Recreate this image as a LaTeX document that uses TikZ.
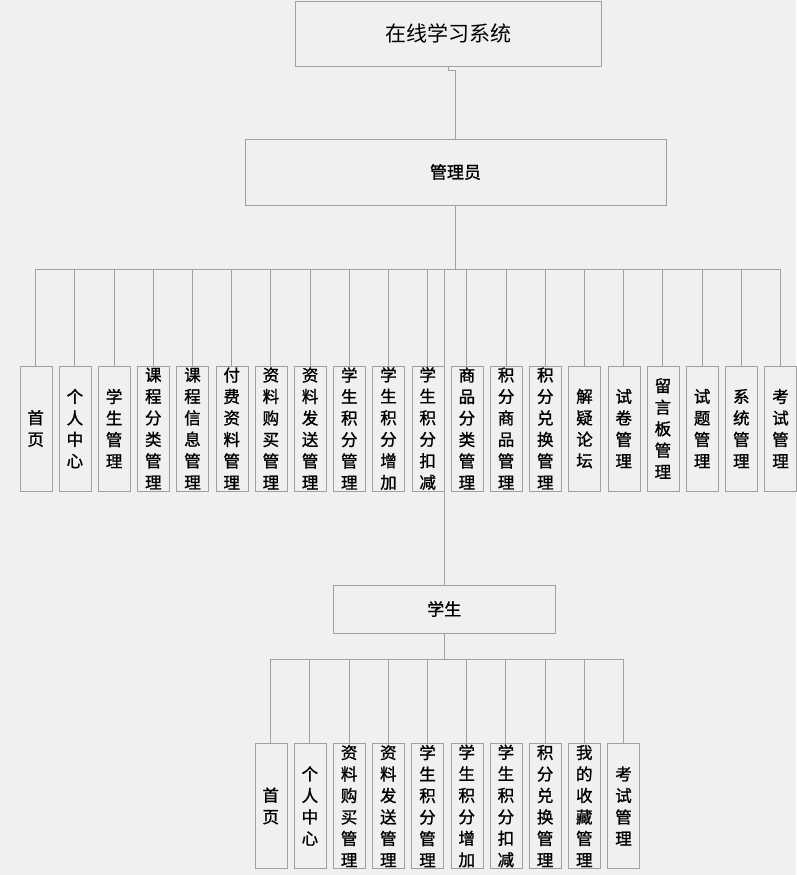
\documentclass[tikz,border=0pt]{standalone}
\usepackage{fontspec}
\newfontfamily\cjk{Noto Sans CJK SC}
\newfontfamily\cjkm[FakeBold=1.2]{Noto Sans CJK SC}
\usetikzlibrary{positioning}
\definecolor{paper}{RGB}{240,240,240}
\definecolor{rule}{RGB}{160,160,160}
\tikzset{
  rootbox/.style={draw=rule,fill=paper,minimum width=306pt,minimum height=65pt,inner sep=0pt,
    font=\cjk\fontsize{21}{24}\selectfont},
  rolebox/.style={draw=rule,fill=paper,inner sep=0pt,font=\cjkm\fontsize{17}{20}\selectfont},
  leafbox/.style={draw=rule,fill=paper,minimum width=32pt,minimum height=125pt,inner sep=0pt,
    align=center,font=\cjkm\fontsize{16.5}{21.5}\selectfont},
  link/.style={draw=rule,line width=0.9pt}
}
\begin{document}
\begin{tikzpicture}[x=1pt,y=-1pt]
  \fill[paper] (0,0) rectangle (796,875);
  \useasboundingbox (0,0) rectangle (796,875);
  % top levels
  \node[rootbox] (root) at (448,33.5) {在线学习系统};
  \node[rolebox,minimum width=421pt,minimum height=66pt] (admin) at (455.5,172) {管理员};
  \node[rolebox,minimum width=222pt,minimum height=48pt] (stu) at (444.3,609) {学生};
  \coordinate (abus) at (455.5,269);
  \coordinate (sbus) at (444.3,659);
  \draw[link] (root.south) -- ++(0,4) -| (admin.north);
  \draw[link] (admin.south) -- (abus);
  % admin modules
  \foreach \t [count=\n from 0] in {{首\\页},{个\\人\\中\\心},{学\\生\\管\\理},{课\\程\\分\\类\\管\\理},
      {课\\程\\信\\息\\管\\理},{付\\费\\资\\料\\管\\理},{资\\料\\购\\买\\管\\理},{资\\料\\发\\送\\管\\理},
      {学\\生\\积\\分\\管\\理},{学\\生\\积\\分\\增\\加},{学\\生\\积\\分\\扣\\减},{商\\品\\分\\类\\管\\理},
      {积\\分\\商\\品\\管\\理},{积\\分\\兑\\换\\管\\理},{解\\疑\\论\\坛},{试\\卷\\管\\理},
      {留\\言\\板\\管\\理},{试\\题\\管\\理},{系\\统\\管\\理},{考\\试\\管\\理}}
  {
    \node[leafbox] (a\n) at (35.7+39.2*\n,428.5) {\t};
    \draw[link] (a\n.north) -- (a\n.north |- abus);
  }
  \draw[link] (a0.north |- abus) -- (a19.north |- abus);
  \draw[link] (stu.north |- abus) -- (stu.north);
  % student modules
  \draw[link] (stu.south) -- (sbus);
  \foreach \t [count=\n from 0] in {{首\\页},{个\\人\\中\\心},{资\\料\\购\\买\\管\\理},{资\\料\\发\\送\\管\\理},
      {学\\生\\积\\分\\管\\理},{学\\生\\积\\分\\增\\加},{学\\生\\积\\分\\扣\\减},{积\\分\\兑\\换\\管\\理},
      {我\\的\\收\\藏\\管\\理},{考\\试\\管\\理}}
  {
    \node[leafbox] (s\n) at (270.7+39.2*\n,806) {\t};
    \draw[link] (s\n.north) -- (s\n.north |- sbus);
  }
  \draw[link] (s0.north |- sbus) -- (s9.north |- sbus);
\end{tikzpicture}
\end{document}
